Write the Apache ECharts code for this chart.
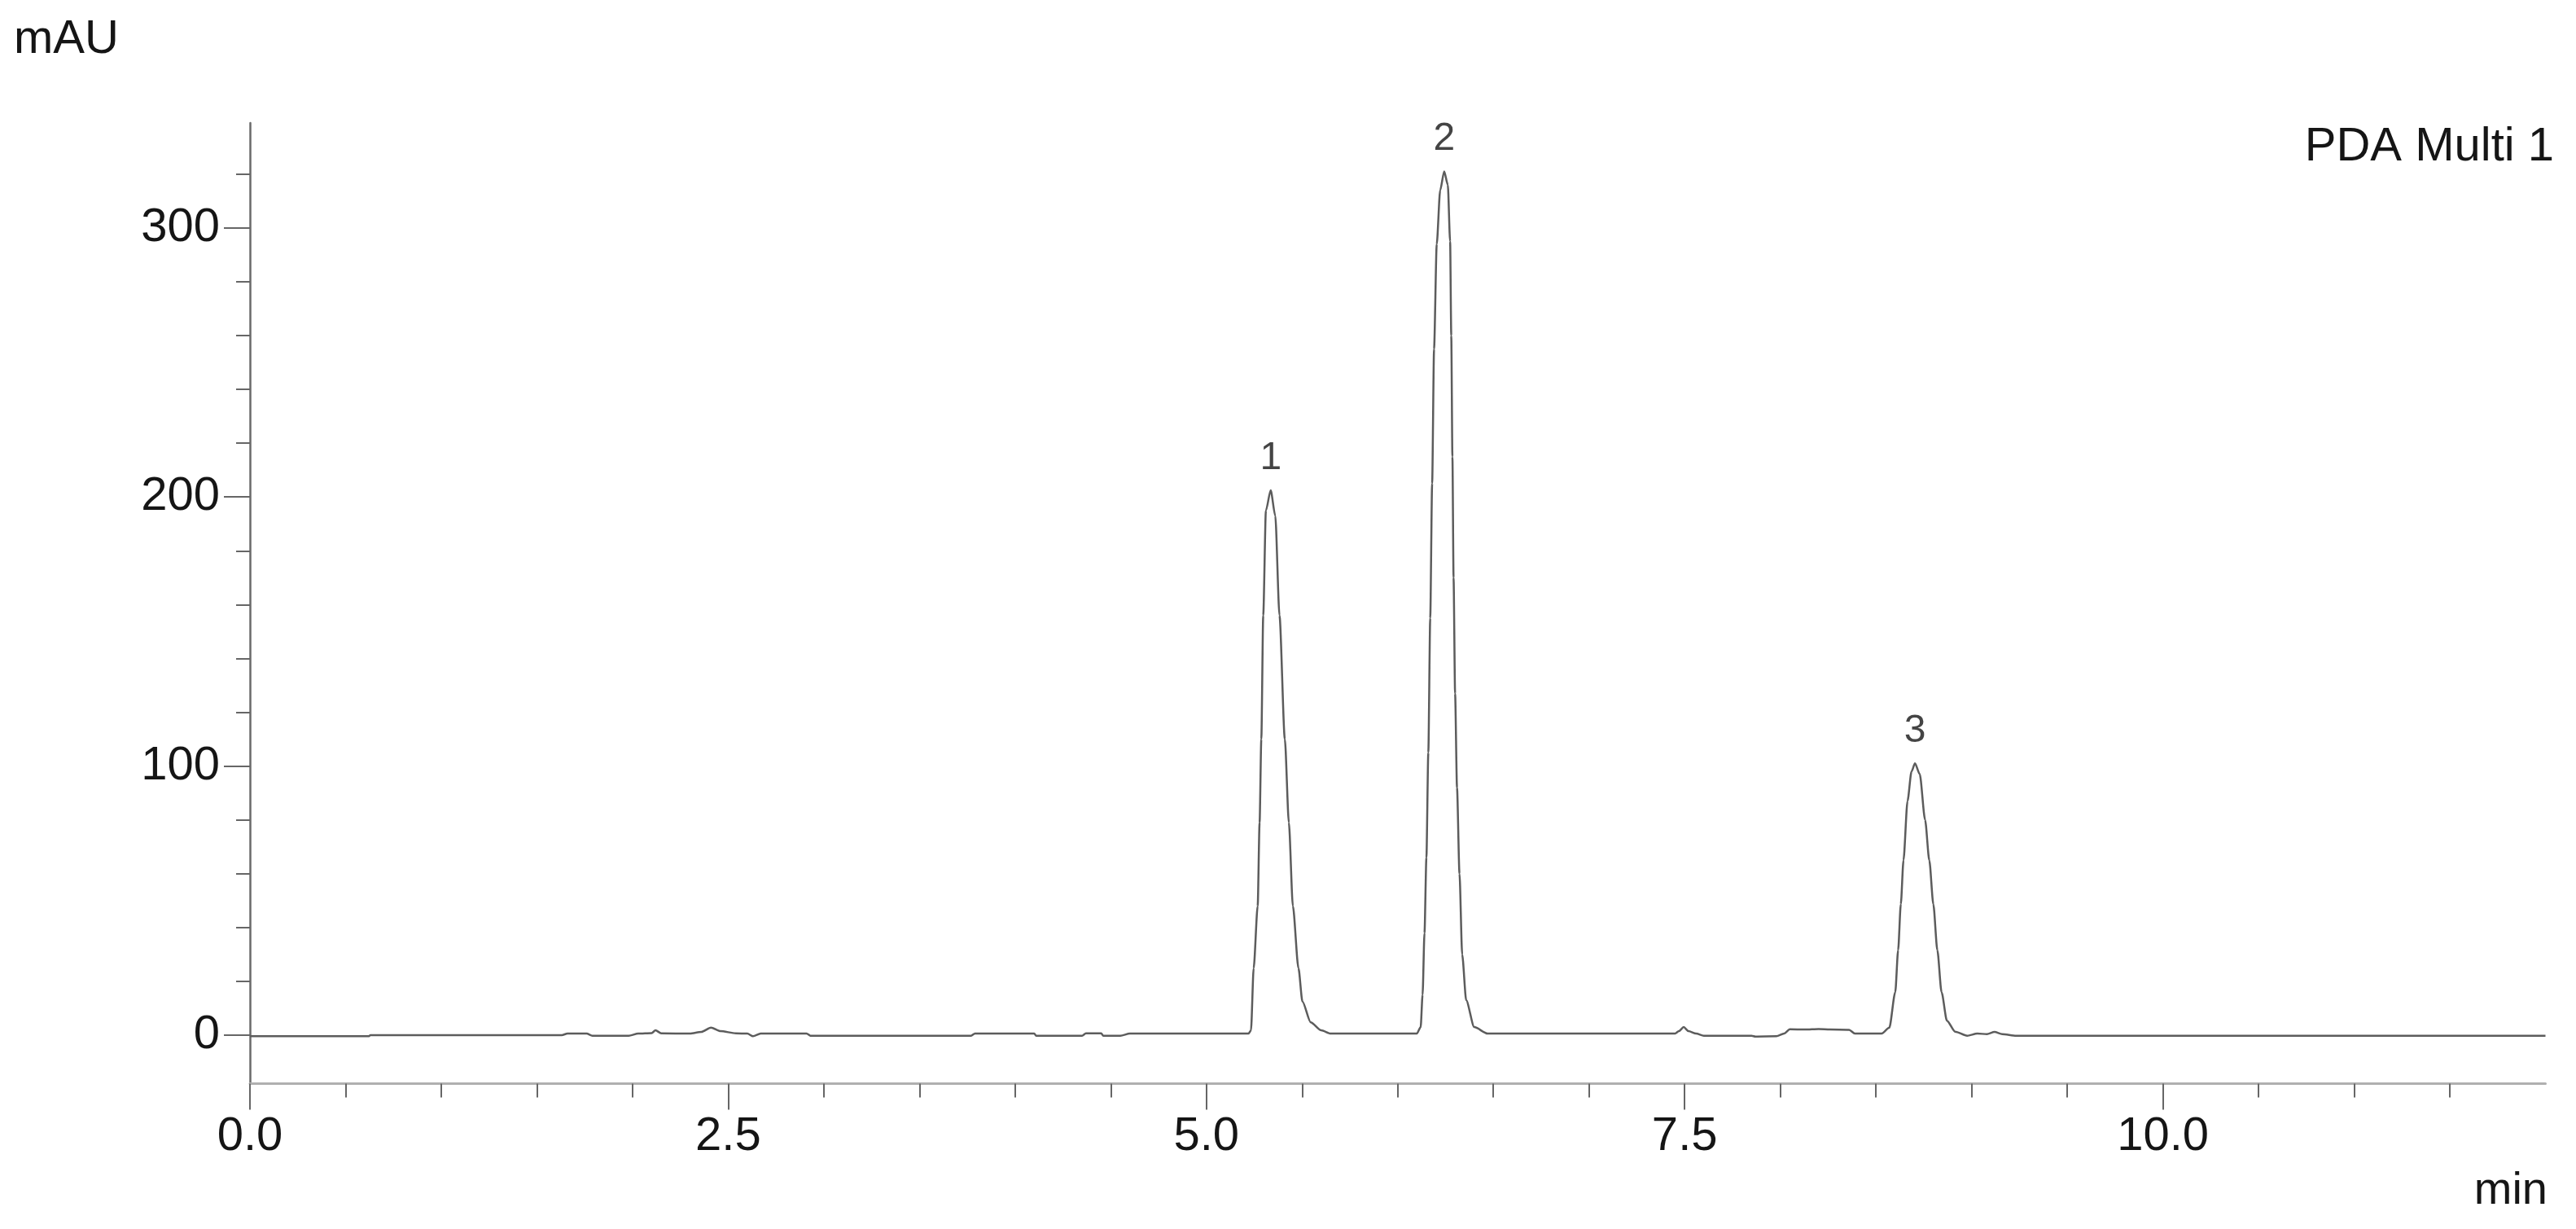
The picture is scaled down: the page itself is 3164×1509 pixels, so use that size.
<!DOCTYPE html>
<html>
<head>
<meta charset="utf-8">
<title>PDA Multi 1</title>
<script src="https://cdn.jsdelivr.net/npm/echarts@6/dist/echarts.min.js"></script>
<style>
    html, body { margin: 0; padding: 0; background: #fff; }
    #main { width: 3164px; height: 1509px; }
</style>
</head>
<body>
<div id="main"></div>
<script>
// chromatogram trace, [min, mAU]
var baseline1 = [
    [0.00, -0.4], [0.62, -0.4], [0.63, 0.0], [1.63, 0.0], [1.66, 0.6], [1.76, 0.6],
    [1.79, -0.2], [1.98, -0.2], [2.03, 0.6], [2.10, 0.8], [2.12, 1.8], [2.15, 0.7],
    [2.30, 0.6], [2.36, 1.2], [2.41, 2.8], [2.46, 1.5], [2.54, 0.7], [2.60, 0.6],
    [2.63, -0.4], [2.67, 0.6], [2.91, 0.6], [2.93, -0.2], [3.77, -0.2], [3.79, 0.6],
    [4.10, 0.6], [4.11, -0.2], [4.35, -0.2], [4.37, 0.7], [4.45, 0.7], [4.46, -0.2],
    [4.55, -0.2], [4.60, 0.6], [5.22, 0.6]
];
var peak1 = [
    [5.233, 1.8], [5.247, 24.9], [5.268, 48], [5.278, 79], [5.287, 110], [5.297, 156],
    [5.311, 195], [5.336, 202.5], [5.360, 193], [5.382, 156], [5.410, 110], [5.431, 79],
    [5.452, 48], [5.481, 25], [5.502, 12.5], [5.545, 4.8], [5.60, 1.8], [5.65, 0.6]
];
var peak2 = [
    [6.10, 0.6], [6.120, 3], [6.130, 15], [6.140, 38], [6.150, 66], [6.160, 105],
    [6.170, 155], [6.180, 205], [6.190, 255], [6.204, 294], [6.222, 314], [6.243, 321],
    [6.262, 316], [6.274, 295], [6.280, 260], [6.286, 215], [6.292, 170], [6.300, 127],
    [6.310, 92], [6.323, 60], [6.337, 30], [6.358, 13], [6.40, 3], [6.47, 0.6]
];
var baseline2 = [
    [7.45, 0.6], [7.47, 1.5], [7.495, 3.0], [7.52, 1.5], [7.56, 0.6], [7.60, -0.2],
    [7.85, -0.2], [7.87, -0.5], [7.98, -0.4], [8.02, 0.6], [8.05, 2.2], [8.13, 2.1],
    [8.20, 2.3], [8.26, 2.1], [8.36, 2.0], [8.39, 0.6], [8.53, 0.6], [8.57, 2.8]
];
var peak3 = [
    [8.601, 16], [8.616, 31.6], [8.630, 48.7], [8.644, 65], [8.665, 87], [8.686, 98],
    [8.704, 101], [8.729, 97], [8.757, 80], [8.779, 65], [8.800, 48.7], [8.821, 31.6],
    [8.843, 16], [8.871, 5.4], [8.914, 1.3], [8.977, -0.2]
];
var baseline3 = [
    [9.03, 0.6], [9.08, 0.4], [9.12, 1.2], [9.16, 0.4], [9.233, -0.2], [12.0, -0.2]
];

var peakNames = ['1', '2', '3'];
var peakTimes = [5.336, 6.243, 8.704];

var xMajorTicks = [0, 2.5, 5, 7.5, 10];
var xMinorTicks = [0.5, 1, 1.5, 2, 3, 3.5, 4, 4.5, 5.5, 6, 6.5, 7, 8, 8.5, 9, 9.5, 10.5, 11, 11.5];
var yMajorTicks = [0, 100, 200, 300];
var yMinorTicks = [20, 40, 60, 80, 120, 140, 160, 180, 220, 240, 260, 280, 320];

var trace = [].concat(baseline1, peak1, peak2, baseline2, peak3, baseline3);

// apex points for the peak numbers
var peakMarks = [];
for (var i = 0; i < peakTimes.length; i++) {
    for (var j = 0; j < trace.length; j++) {
        if (trace[j][0] === peakTimes[i]) {
            peakMarks.push({value: trace[j], name: peakNames[i]});
        }
    }
}

var font = '"Liberation Sans", Arial, sans-serif';
var tickStyle = {color: '#666', width: 2};

var myChart = echarts.init(document.getElementById('main'));
var option = {
    animation: false,
    backgroundColor: '#fff',
    grid: {left: 307, right: 37.5, top: 151, bottom: 178.5},
    xAxis: [
        {
            type: 'value', min: 0, max: 12, position: 'bottom',
            axisLine: {show: true, onZero: false, lineStyle: {color: '#b0b0b0', width: 3}},
            axisTick: {show: true, length: 32, customValues: xMajorTicks, lineStyle: tickStyle},
            axisLabel: {
                customValues: xMajorTicks, margin: 36, fontSize: 58, fontFamily: font, color: '#151515',
                formatter: function (v) { return v.toFixed(1); }
            },
            splitLine: {show: false}
        },
        {
            type: 'value', min: 0, max: 12, position: 'bottom',
            axisLine: {show: false, onZero: false},
            axisTick: {show: true, length: 17, customValues: xMinorTicks, lineStyle: tickStyle},
            axisLabel: {show: false},
            splitLine: {show: false}
        }
    ],
    yAxis: [
        {
            type: 'value', min: -18, max: 339, position: 'left',
            axisLine: {show: true, onZero: false, lineStyle: {color: '#6a6a6a', width: 2.5}},
            axisTick: {show: true, length: 32, customValues: yMajorTicks, lineStyle: tickStyle},
            axisLabel: {customValues: yMajorTicks, margin: 37, fontSize: 58, fontFamily: font, color: '#151515'},
            splitLine: {show: false}
        },
        {
            type: 'value', min: -18, max: 339, position: 'left',
            axisLine: {show: false, onZero: false},
            axisTick: {show: true, length: 17, customValues: yMinorTicks, lineStyle: tickStyle},
            axisLabel: {show: false},
            splitLine: {show: false}
        }
    ],
    graphic: [
        {type: 'text', x: 17, y: 48.5, style: {text: 'mAU', font: '58px ' + font, fill: '#151515', align: 'left', verticalAlign: 'middle'}},
        {type: 'text', x: 3137, y: 181, style: {text: 'PDA Multi 1', font: '58px ' + font, fill: '#151515', align: 'right', verticalAlign: 'middle'}},
        {type: 'text', x: 3129, y: 1463, style: {text: 'min', font: '56px ' + font, fill: '#151515', align: 'right', verticalAlign: 'middle'}}
    ],
    series: [
        {
            name: 'PDA Multi 1',
            type: 'line',
            xAxisIndex: 0,
            yAxisIndex: 0,
            symbol: 'none',
            smooth: 0.25,
            smoothMonotone: 'x',
            lineStyle: {color: '#5c5c5c', width: 2.5},
            data: trace
        },
        {
            name: 'peaks',
            type: 'scatter',
            xAxisIndex: 0,
            yAxisIndex: 0,
            symbolSize: 1,
            itemStyle: {color: 'rgba(0,0,0,0)'},
            label: {
                show: true, position: 'top', distance: 15,
                fontSize: 48, fontFamily: font, color: '#151515',
                formatter: function (p) { return p.name; }
            },
            data: peakMarks
        }
    ]
};
myChart.setOption(option);
</script>
</body>
</html>
